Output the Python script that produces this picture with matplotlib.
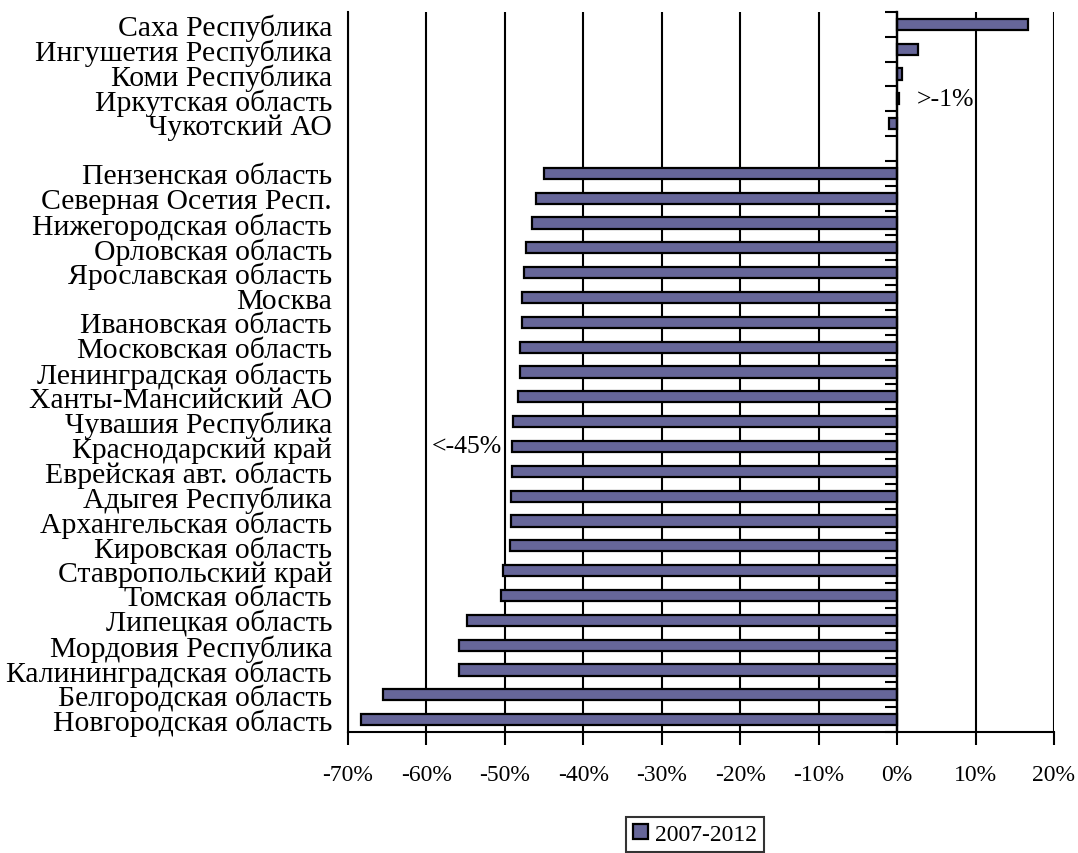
import numpy as np
import matplotlib.pyplot as plt
from matplotlib.ticker import FixedLocator, PercentFormatter

plt.rcParams['font.family'] = ['Liberation Serif', 'DejaVu Serif']
plt.rcParams['axes.unicode_minus'] = False

# Regions with growth (top group) and with strongest decline (bottom group)
top_regions = ['Саха Республика', 'Ингушетия Республика', 'Коми Республика',
               'Иркутская область', 'Чукотский АО']
top_values = [16.7, 2.7, 0.6, 0.3, -1.0]

bottom_regions = ['Пензенская область', 'Северная Осетия Респ.', 'Нижегородская область',
                  'Орловская область', 'Ярославская область', 'Москва',
                  'Ивановская область', 'Московская область', 'Ленинградская область',
                  'Ханты-Мансийский АО', 'Чувашия Республика', 'Краснодарский край',
                  'Еврейская авт. область', 'Адыгея Республика', 'Архангельская область',
                  'Кировская область', 'Ставропольский край', 'Томская область',
                  'Липецкая область', 'Мордовия Республика', 'Калининградская область',
                  'Белгородская область', 'Новгородская область']
bottom_values = [-45.0, -46.0, -46.5, -47.3, -47.6, -47.8, -47.8, -48.1, -48.1,
                 -48.3, -48.9, -49.1, -49.1, -49.2, -49.2, -49.4, -50.2, -50.5,
                 -54.8, -55.8, -55.8, -65.5, -68.3]

series_name = '2007-2012'
x_ticks = [-70, -60, -50, -40, -30, -20, -10, 0, 10, 20]

# one empty slot between the two groups
labels = top_regions + [''] + bottom_regions
top_pos = np.arange(len(top_regions))
bottom_pos = np.arange(len(bottom_regions)) + len(top_regions) + 1
n_slots = len(labels)

fig = plt.figure(figsize=(10.78, 8.54), dpi=100)
ax = fig.add_axes([0.3228, 0.1417, 0.9777 - 0.3228, 0.9848 - 0.1417])

bar_color = '#666699'
bars = ax.barh(top_pos, top_values, height=0.45, color=bar_color,
               edgecolor='black', linewidth=1.6, label=series_name, zorder=3)
ax.barh(bottom_pos, bottom_values, height=0.45, color=bar_color,
        edgecolor='black', linewidth=1.6, zorder=3)

ax.set_xlim(-70, 20)
ax.set_ylim(n_slots - 0.5, -0.5)

ax.set_xticks(x_ticks)
ax.xaxis.set_major_formatter(PercentFormatter(decimals=0))
ax.grid(axis='x', color='black', linewidth=1.5, zorder=1)
ax.tick_params(axis='x', direction='out', length=9, width=1.5,
               labelsize=17, pad=14)

# category labels on the left, ticks on the zero line
ax.set_yticks(np.arange(n_slots))
ax.set_yticklabels(labels)
ax.yaxis.set_minor_locator(FixedLocator(np.arange(n_slots + 1) - 0.5))
ax.tick_params(axis='y', which='major', left=False, right=False,
               labelleft=True, labelsize=21.4, pad=8)
ax.tick_params(axis='y', which='minor', left=False, right=True,
               direction='in', length=9, width=1.5)
ax.spines['right'].set_position(('data', 0))
ax.spines['right'].set_linewidth(1.7)
ax.spines['right'].set_zorder(4)
ax.spines['top'].set_visible(False)
ax.spines['left'].set_linewidth(1.5)
ax.spines['bottom'].set_linewidth(1.5)

ax.text(2.5, top_pos[3], '>-1%', fontsize=18.5, va='center', ha='left')
ax.text(-59.3, bottom_pos[11], '<-45%', fontsize=18.5, va='center', ha='left')

leg = fig.legend(handles=[bars], loc='center', bbox_to_anchor=(695 / 1078, 0.022),
                 fontsize=17, frameon=True, fancybox=False, handlelength=0.65,
                 handleheight=0.65, handletextpad=0.3, borderpad=0.3,
                 borderaxespad=0)
leg.get_frame().set_edgecolor('black')
leg.get_frame().set_linewidth(1.5)

fig.savefig('out.png', dpi=100)
